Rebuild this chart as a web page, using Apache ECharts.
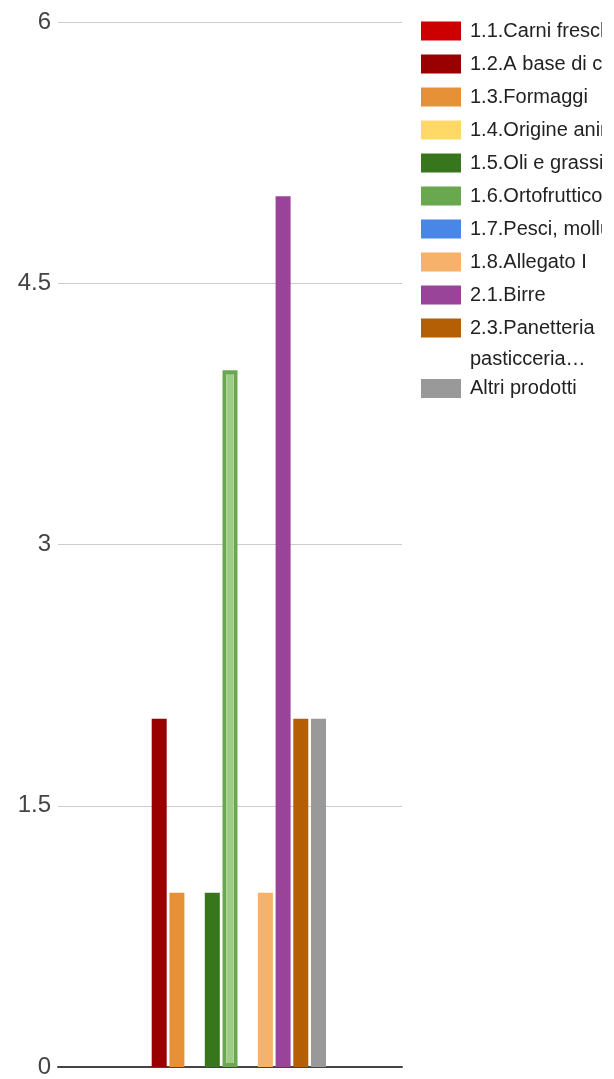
<!DOCTYPE html>
<html>
<head>
<meta charset="utf-8">
<script src="https://cdn.jsdelivr.net/npm/echarts@6/dist/echarts.min.js"></script>
<style>
  html, body { margin: 0; padding: 0; background: #fff; }
  #chart { width: 602px; height: 1079px; }
</style>
</head>
<body>
<div id="chart"></div>
<script>
// Product categories (one bar each) and their counts
const names = [
  '1.1.Carni fresche e loro preparazioni',
  '1.2.A base di carne',
  '1.3.Formaggi',
  '1.4.Origine animale',
  '1.5.Oli e grassi',
  '1.6.Ortofrutticoli e cereali',
  '1.7.Pesci, molluschi e crostacei',
  '1.8.Allegato I',
  '2.1.Birre',
  '2.3.Panetteria\npasticceria…',
  'Altri prodotti'
];
const values = [0, 2, 1, 0, 1, 4, 0, 1, 5, 2, 2];
const colors = [
  '#cc0000', '#990000', '#e69138', '#ffd966', '#38761d', '#6aa84f',
  '#4a86e8', '#f6b26b', '#994499', '#b45f06', '#999999'
];
const yTicks = [0, 1.5, 3, 4.5, 6];
const highlighted = 5; // bar drawn with the "selected" outline

const FONT = '"Liberation Sans", Arial, sans-serif';

const chart = echarts.init(document.getElementById('chart'), null, { renderer: 'canvas' });

const series = names.map((name, i) => {
  const item = { value: values[i] };
  if (i === highlighted) {
    item.itemStyle = {
      borderColor: colors[i],
      borderWidth: 4,
      color: new echarts.graphic.LinearGradient(0, 0, 1, 0, [
        { offset: 0, color: '#ffffff' },
        { offset: 0.27, color: '#ffffff' },
        { offset: 0.27, color: '#9ccc86' },
        { offset: 0.73, color: '#9ccc86' },
        { offset: 0.73, color: '#ffffff' },
        { offset: 1, color: '#ffffff' }
      ])
    };
  }
  return {
    name: name,
    type: 'bar',
    barWidth: 15,
    barGap: '18%',
    itemStyle: { color: colors[i] },
    emphasis: { disabled: true },
    data: [item]
  };
});

const legendText = {
  fontFamily: FONT,
  fontSize: 20,
  lineHeight: 19,
  color: '#222',
  padding: [0, 0, 0, 4]
};

const twoLine = names.findIndex(n => n.indexOf('\n') >= 0);

chart.setOption({
  animation: false,
  backgroundColor: '#ffffff',
  grid: { left: 58, top: 22, width: 344, height: 1048 },
  xAxis: {
    type: 'category',
    data: [''],
    axisLine: { show: true, lineStyle: { color: '#444', width: 2 } },
    axisTick: { show: false },
    axisLabel: { show: false },
    splitLine: { show: false }
  },
  yAxis: {
    type: 'value',
    min: yTicks[0],
    max: yTicks[yTicks.length - 1],
    interval: yTicks[1] - yTicks[0],
    axisLine: { show: false },
    axisTick: { show: false },
    axisLabel: {
      fontFamily: FONT,
      fontSize: 24,
      color: '#444',
      margin: 7
    },
    splitLine: { lineStyle: { color: '#cccccc', width: 1 } }
  },
  legend: [
    {
      orient: 'vertical',
      left: 421,
      top: 21,
      padding: 0,
      itemWidth: 40,
      itemHeight: 19,
      itemGap: 13,
      icon: 'rect',
      selectedMode: false,
      data: names.slice(0, names.length - 1),
      formatter: n => n.split('\n')[0],
      textStyle: legendText
    },
    {
      orient: 'vertical',
      left: 421,
      top: 378.5,
      padding: 0,
      itemWidth: 40,
      itemHeight: 19,
      itemGap: 13,
      icon: 'rect',
      selectedMode: false,
      data: names.slice(names.length - 1),
      textStyle: legendText
    }
  ],
  graphic: [
    {
      type: 'text',
      left: 470,
      top: 349,
      silent: true,
      style: {
        text: names[twoLine].split('\n')[1],
        font: '20px ' + FONT,
        fill: '#222'
      }
    }
  ],
  series: series
});
</script>
</body>
</html>
